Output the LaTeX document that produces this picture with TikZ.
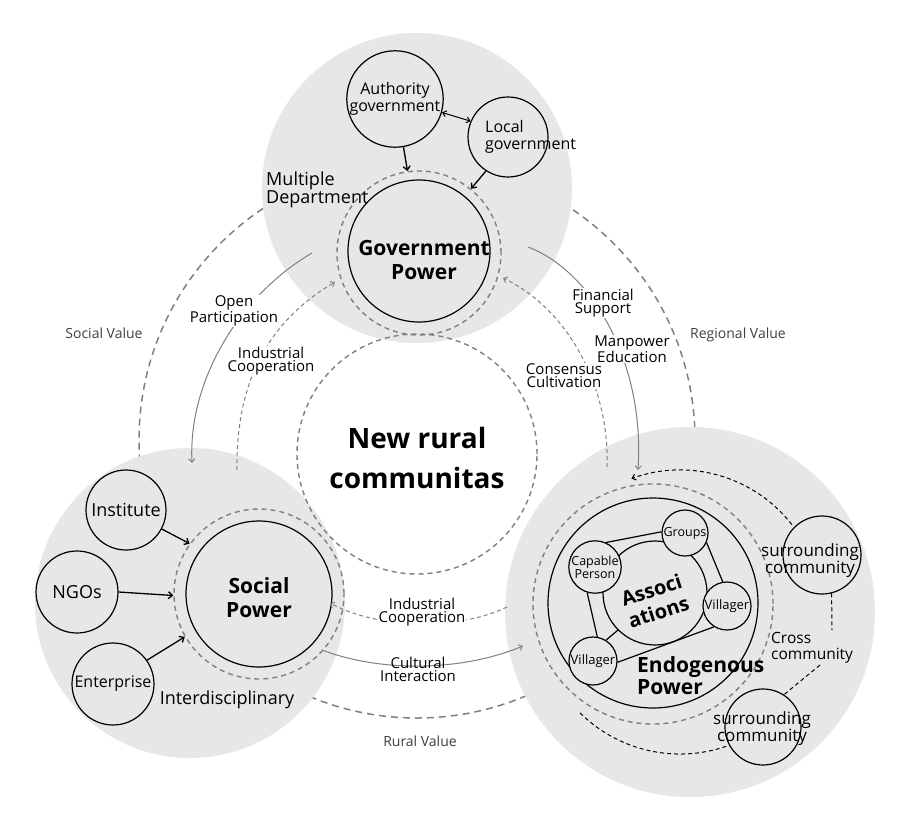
\documentclass[tikz,border=0pt]{standalone}
\usepackage{fontspec}
\setmainfont{Open Sans}
\usetikzlibrary{arrows.meta}
\definecolor{disk}{RGB}{231,231,231}
\definecolor{dgray}{RGB}{128,128,128}
\definecolor{lblgray}{RGB}{64,64,64}
\newcommand\fsz[2]{\fontsize{#1}{#2}\selectfont}
\tikzset{
  graydisk/.style={circle, fill=disk, draw=none, inner sep=0},
  bc/.style={circle, draw=black, line width=1.2pt, inner sep=0, fill=disk},
  ring/.style={circle, draw=dgray, line width=1.4pt, dash pattern=on 5pt off 4pt, inner sep=0},
  valring/.style={circle, draw=dgray, line width=1.5pt, dash pattern=on 7pt off 5pt, inner sep=0},
  conn/.style={draw=dgray, line width=1pt, -{Straight Barb[length=3.5pt,width=6pt]}},
  dconn/.style={conn, dash pattern=on 4pt off 3pt},
  barr/.style={draw=black, line width=1.3pt, -{Straight Barb[length=4pt,width=7pt]}},
  bline/.style={draw=black, line width=1.2pt},
  bdash/.style={draw=black, line width=1pt, dash pattern=on 4pt off 3pt},
  lbl/.style={font=\fsz{15}{13}, align=center, inner sep=1pt},
  wlbl/.style={lbl, fill=white},
  vallbl/.style={font=\fsz{14}{14}, text=lblgray, inner sep=1pt},
  bigtxt/.style={font=\fsz{21}{24}\bfseries, align=center, inner sep=0},
}
\begin{document}
\begin{tikzpicture}[x=1pt,y=-1pt]
\useasboundingbox (0,0) rectangle (903,825);
\fill[white] (0,0) rectangle (903,825);

% big value circle (mostly hidden by the disks)
\node[valring, minimum size=556] (valcirc) at (417,440) {};

% gray disks
\node[graydisk, minimum size=310] (govdisk) at (417,188) {};
\node[graydisk, minimum size=310] (socdisk) at (190,603) {};
\node[graydisk, minimum size=370] (enddisk) at (690,612) {};

% central circle
\node[ring, minimum size=240] (core) at (417,454) {};
\node[font=\fsz{28}{40}\bfseries, align=center] (coretxt) at (417,458) {New rural\\communitas};

% value labels
\node[vallbl] (sv) at (104,333) {Social Value};
\node[vallbl] (rv) at (738,335) {Regional Value};
\node[vallbl] (ruv) at (420,741) {Rural Value};

% ---------- Government ----------
\node[ring, minimum size=164] (govring) at (419,253) {};
\node[bc, minimum size=142] (gov) at (419,251) {};
\node[bigtxt] (govtxt) at (424,260) {Government\\Power};
\node[bc, minimum size=96, font=\fsz{16}{17}, align=center] (auth) at (395,99) {Authority\\government};
\node[bc, minimum size=80] (loc) at (508,137) {};
\node[font=\fsz{16}{17}, align=left, anchor=west, inner sep=0] (loctxt) at (485,137) {Local\\government};
\node[font=\fsz{18}{17}, align=left, anchor=west, inner sep=0] (multi) at (266,190) {Multiple\\Department};
\draw[barr] (auth.280) -- (govring.98);
\draw[barr] (loc.237) -- (govring.51);
\draw[draw=black, line width=1pt, {Straight Barb[length=3.5pt,width=6pt]}-{Straight Barb[length=3.5pt,width=6pt]}] (auth.344) -- (loc.157);

% ---------- Social ----------
\node[ring, minimum size=170] (socring) at (259,594) {};
\node[bc, minimum size=146] (soc) at (259,594) {};
\node[bigtxt] (soctxt) at (259,598) {Social\\Power};
\node[bc, minimum size=80, font=\fsz{18}{18}] (inst) at (126,510) {Institute};
\node[bc, minimum size=82, font=\fsz{18}{18}] (ngo) at (77,592) {NGOs};
\node[bc, minimum size=82, font=\fsz{16}{16}] (ent) at (113,684) {Enterprise};
\node[font=\fsz{18}{18}, inner sep=0] (inter) at (227,700) {Interdisciplinary};
\draw[barr] (inst.332) -- (socring.144);
\draw[barr] (ngo.0) -- (socring.181);
\draw[barr] (ent.35) -- (socring.210);

% ---------- Endogenous ----------
\draw[bdash, -{Straight Barb[length=3.5pt,width=6pt]}] (791.9,524.6) arc[start angle=38, end angle=110, radius=142pt];
\draw[bdash] (726.2,746.3) arc[start angle=289, end angle=225, radius=142pt];
\node[ring, minimum size=240] (endring) at (653,604) {};
\node[bc, minimum size=210] (endo) at (653,603) {};
\node[bc, minimum size=104] (assoc) at (655,593) {};
\node[font=\fsz{20}{23}\bfseries, align=center, rotate=18, inner sep=0] (assoctxt) at (655,601) {Associ\\ations};
\node[bc, minimum size=46, font=\fsz{12.5}{12}] (grp) at (685,533) {Groups};
\node[bc, minimum size=47, font=\fsz{12.5}{11}, align=center] (cap) at (595,567) {Capable\\Person};
\node[bc, minimum size=48, font=\fsz{13}{13}] (vr) at (727,606) {Villager};
\node[bc, minimum size=48, font=\fsz{13}{13}] (vl) at (593,661) {Villager};
\draw[bline] (cap.66) -- (grp.177);
\draw[bline] (grp.336) -- (vr.100);
\draw[bline] (vr.238) -- (vl.357);
\draw[bline] (vl.80) -- (cap.253);
\draw[bline] (vl.58) -- (assoc.225);
\node[font=\fsz{21}{22}\bfseries, align=left, anchor=west, inner sep=0] (endtxt) at (637,676) {Endogenous\\Power};

\node[bc, minimum size=78] (surt) at (822,555) {};
\node[font=\fsz{17}{17}, align=center, inner sep=0] (surttxt) at (810,561) {surrounding\\community};
\node[bc, minimum size=76] (surb) at (763,727) {};
\node[font=\fsz{17}{17}, align=center, inner sep=0] (surbtxt) at (762,729) {surrounding\\community};
\node[font=\fsz{15.5}{16}, align=left, anchor=west, inner sep=0] (cross) at (771,648) {Cross\\community};
\coordinate (crossup) at (832,630);
\coordinate (crossdn) at (820,665);
\draw[bdash] (surt.284) -- (crossup);
\draw[bdash] (crossdn) -- (surb.57);

% ---------- inter-power connectors ----------
\coordinate (opS) at (312,253);
\coordinate (opE) at (192,463);
\draw[conn] (opS) .. controls (240,295) and (188,380) .. (opE);
\node[wlbl] (optxt) at (234,311) {Open\\Participation};

\coordinate (icS) at (237,470);
\coordinate (icE) at (335,282);
\draw[dconn] (icS) .. controls (236,390) and (262,325) .. (icE);
\node[wlbl] (ictxt) at (271,361) {Industrial\\Cooperation};

\coordinate (fsS) at (528,247);
\coordinate (fsE) at (638,470);
\draw[conn] (fsS) .. controls (590,270) and (645,360) .. (fsE);
\node[wlbl] (fstxt) at (603,303) {Financial\\Support};
\node[wlbl] (metxt) at (632,349) {Manpower\\Education};

\coordinate (ccS) at (607,467);
\coordinate (ccE) at (503,278);
\draw[dconn] (ccS) .. controls (610,390) and (570,310) .. (ccE);
\node[wlbl] (cctxt) at (564,376) {Consensus\\Cultivation};

\coordinate (ciS) at (322,650);
\coordinate (ciE) at (523,646);
\draw[conn] (ciS) .. controls (380,672) and (460,672) .. (ciE);
\node[lbl] (citxt) at (418,669) {Cultural\\Interaction};

\coordinate (ic2S) at (507,607);
\coordinate (ic2E) at (330,603);
\draw[dconn] (ic2S) .. controls (460,630) and (380,630) .. (ic2E);
\node[wlbl] (ic2txt) at (422,612) {Industrial\\Cooperation};
\end{tikzpicture}
\end{document}
